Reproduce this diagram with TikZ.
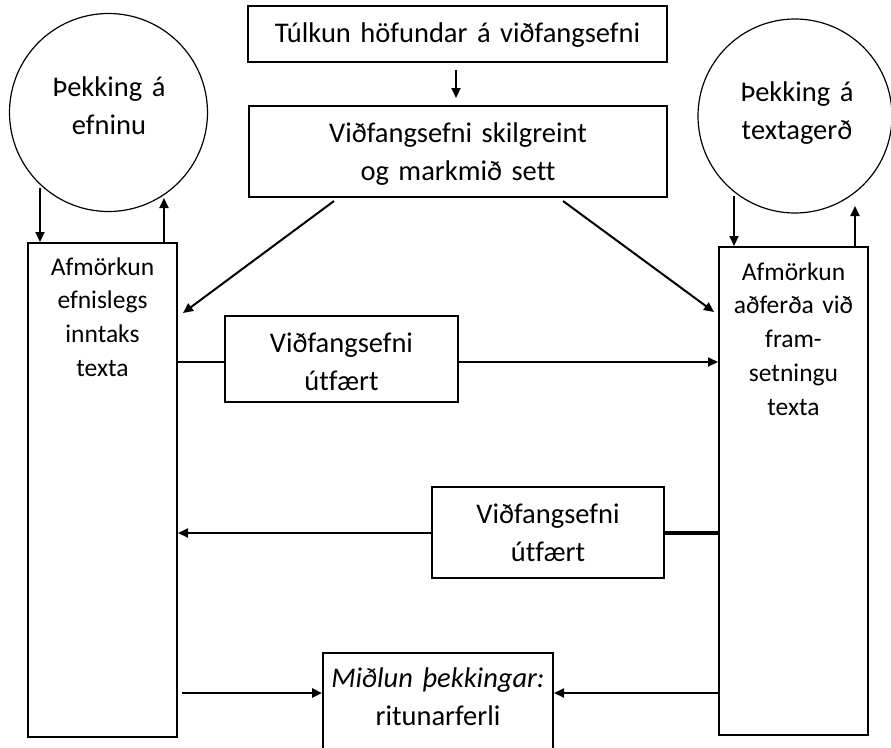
\documentclass[tikz,border=0pt]{standalone}
\usepackage{fontspec}
\setmainfont{Carlito}[Ligatures=CommonOff]
\usetikzlibrary{arrows.meta,calc}
\begin{document}
\begin{tikzpicture}[x=1pt,y=-1pt,
  box/.style={draw,line width=2pt,inner sep=0pt,rectangle},
  ring/.style={draw,line width=1.2pt,circle,inner sep=0pt},
  bigtxt/.style={text width=#1,align=center,anchor=base,inner sep=0pt,font=\fontsize{28.5}{38.5}\selectfont},
  smalltxt/.style={text width=145pt,align=center,anchor=base,inner sep=0pt,font=\fontsize{25.5}{33.8}\selectfont},
  conn/.style={line width=2pt},
  arr/.style={conn,-{Triangle[length=10pt,width=9pt]}},
  heavy/.style={line width=3.2pt}
]
\useasboundingbox (0,0) rectangle (891,747);
\clip (0,0) rectangle (891,747);
\fill[white] (0,0) rectangle (891,747);

% boxes
\node[box,minimum width=419pt,minimum height=56pt] (top) at (457.5,33.5) {};
\node[bigtxt=410pt] (ttop) at (457.5,42) {Túlkun höfundar á viðfangsefni};

\node[box,minimum width=418pt,minimum height=91pt] (goal) at (458,151.5) {};
\node[bigtxt=410pt] (tgoal) at (458,142) {Viðfangsefni skilgreint\\og markmið sett};

\node[ring,minimum size=198pt] (lc) at (108.5,112.5) {};
\node[bigtxt=180pt] (tlc) at (109,96) {Þekking á\\efninu};

\node[ring,minimum size=194pt] (rc) at (795,116) {};
\node[bigtxt=180pt] (trc) at (797,101) {Þekking á\\textagerð};

\node[box,minimum width=149pt,minimum height=494pt] (L) at (102.5,490) {};
\node[smalltxt] (tL) at (102.5,275) {Afmörkun\\efnislegs\\inntaks\\texta};

\node[box,minimum width=149pt,minimum height=488pt] (R) at (793.5,491) {};
\node[smalltxt] (tR) at (793.5,280) {Afmörkun\\aðferða við\\fram-\\setningu\\texta};

\node[box,minimum width=233pt,minimum height=86pt] (m1) at (341.5,359) {};
\node[bigtxt=220pt] (tm1) at (341.5,352) {Viðfangsefni\\útfært};

\node[box,minimum width=232pt,minimum height=91pt] (m2) at (548,532.5) {};
\node[bigtxt=220pt] (tm2) at (548,523) {Viðfangsefni\\útfært};

\node[box,minimum width=230pt,minimum height=100pt] (bot) at (438,703) {};
\node[bigtxt=220pt] (tbot) at (438,687) {\textit{Miðlun þekkingar:}\\ritunarferli};

% connectors
\draw[arr] ($(top.south)+(-1.5,7)$) -- ($(goal.north)+(-2,-7)$);

\draw[arr] ($(goal.south west)+(86,3)$) -- ($(L.north east)+(5,71)$);
\draw[arr] ($(goal.south east)+(-105,3)$) -- ($(R.north west)+(-4,66)$);

\draw[arr] ($(L.north west)+(13,-54)$) -- ($(L.north west)+(13,0)$);
\draw[arr] ($(L.north east)+(-14,0)$) -- ($(L.north east)+(-14,-44)$);
\draw[arr] ($(R.north west)+(16,-50)$) -- ($(R.north west)+(16,0)$);
\draw[arr] ($(R.north east)+(-14,0)$) -- ($(R.north east)+(-14,-40)$);

\coordinate (y1) at (0,362);
\coordinate (y2) at (0,533);
\coordinate (y3) at (0,693);
\draw[conn] (L.east |- y1) -- (m1.west |- y1);
\draw[arr] (m1.east |- y1) -- (R.west |- y1);

\draw[arr] (m2.west |- y2) -- (L.east |- y2);
\draw[heavy] (m2.east |- y2) -- (R.west |- y2);

\draw[arr,line width=2.8pt] ($(L.east |- y3)+(4,0)$) -- (bot.west |- y3);
\draw[arr] (R.west |- y3) -- (bot.east |- y3);
\end{tikzpicture}
\end{document}
